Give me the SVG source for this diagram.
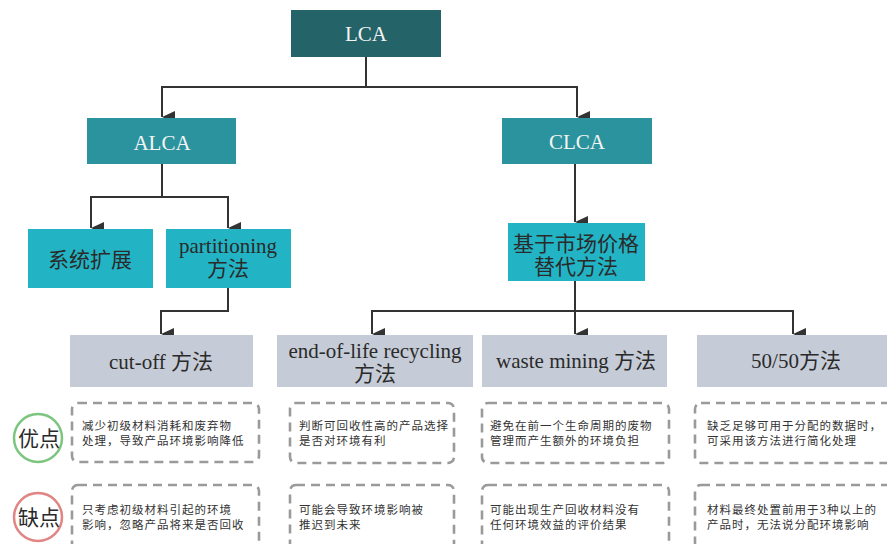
<svg xmlns="http://www.w3.org/2000/svg" width="887" height="544" viewBox="0 0 887 544">
<defs>
<marker id="arr" markerUnits="userSpaceOnUse" markerWidth="12" markerHeight="14" refX="6" refY="13" orient="auto-start-reverse" viewBox="0 0 12 14">
<path d="M0,0 L12,0 L6,13 Z" fill="#333"/>
</marker>
<style>
.lbl{font-family:"Liberation Serif","Noto Sans CJK SC",serif;font-size:21px;text-anchor:middle;fill:#2a2a2a}
.wt{fill:#f4f4f4}
.cn{font-family:"Noto Sans CJK SC","Liberation Serif",sans-serif;font-size:11.5px;letter-spacing:1px;fill:#333}
.dash{fill:#fff;stroke:#9a9a9a;stroke-width:2.6;stroke-dasharray:9 6}
.con{fill:none;stroke:#333;stroke-width:2}
.dark{fill:#246367}
.mid{fill:#2b939e}
.cy{fill:#22b4c4}
.gr{fill:#c6ccd7}
</style>
</defs>
<rect width="887" height="544" fill="#fff"/>
<g id="connectors">
<path class="con" d="M366,57 V87 H162 V117" marker-end="url(#arr)"/>
<path class="con" d="M366,87 H577 V117" marker-end="url(#arr)"/>
<path class="con" d="M162,164 V197 H91 V228" marker-end="url(#arr)"/>
<path class="con" d="M162,197 H228 V228" marker-end="url(#arr)"/>
<path class="con" d="M228,288 V311 H161 V334" marker-end="url(#arr)"/>
<path class="con" d="M575,164 V222" marker-end="url(#arr)"/>
<path class="con" d="M575,281 V311 H372 V334" marker-end="url(#arr)"/>
<path class="con" d="M575,311 V334" marker-end="url(#arr)"/>
<path class="con" d="M575,311 H793 V334" marker-end="url(#arr)"/>
</g>
<g id="lca"><rect class="dark" x="291" y="10" width="150" height="47"/><text class="lbl wt" x="366" y="41">LCA</text></g>
<g id="alca"><rect class="mid" x="87" y="118" width="149" height="46"/><text class="lbl wt" x="162" y="150">ALCA</text></g>
<g id="clca"><rect class="mid" x="502" y="118" width="150" height="46"/><text class="lbl wt" x="577" y="149">CLCA</text></g>
<g id="sysexp"><rect class="cy" x="28" y="229" width="125" height="59"/><text class="lbl" x="90" y="267">系统扩展</text></g>
<g id="partitioning"><rect class="cy" x="166" y="229" width="125" height="59"/><text class="lbl" x="228" y="253" font-size="22">partitioning</text><text class="lbl" x="228" y="276">方法</text></g>
<g id="market"><rect class="cy" x="508" y="223" width="137" height="58"/><text class="lbl" x="576" y="251">基于市场价格</text><text class="lbl" x="576" y="274">替代方法</text></g>
<g id="cutoff"><rect class="gr" x="70" y="335" width="183" height="52"/><text class="lbl" x="161" y="369" font-size="22">cut-off 方法</text></g>
<g id="eol"><rect class="gr" x="277" y="335" width="196" height="52"/><text class="lbl" x="375" y="358" font-size="22">end-of-life recycling</text><text class="lbl" x="375" y="381">方法</text></g>
<g id="waste"><rect class="gr" x="482" y="335" width="185" height="52"/><text class="lbl" x="576" y="368" font-size="22">waste mining 方法</text></g>
<g id="fifty"><rect class="gr" x="697" y="335" width="192" height="52"/><text class="lbl" x="796" y="368" font-size="22">50/50方法</text></g>
<g id="pro">
<circle cx="38" cy="438" r="24" fill="#fff" stroke="#7cc57f" stroke-width="2.5"/>
<text class="lbl" x="39" y="446">优点</text>
</g>
<g id="con">
<circle cx="38" cy="517" r="24" fill="#fff" stroke="#e08484" stroke-width="2.5"/>
<text class="lbl" x="39" y="525">缺点</text>
</g>
<g id="pro1"><rect class="dash" x="72" y="403" width="187" height="59" rx="6"/><text class="cn" x="82" y="430">减少初级材料消耗和废弃物</text><text class="cn" x="82" y="445">处理，导致产品环境影响降低</text></g>
<g id="pro2"><rect class="dash" x="290" y="403" width="164" height="60" rx="6"/><text class="cn" x="299" y="430">判断可回收性高的产品选择</text><text class="cn" x="299" y="445">是否对环境有利</text></g>
<g id="pro3"><rect class="dash" x="482" y="403" width="187" height="60" rx="6"/><text class="cn" x="490" y="430">避免在前一个生命周期的废物</text><text class="cn" x="490" y="445">管理而产生额外的环境负担</text></g>
<g id="pro4"><rect class="dash" x="695" y="403" width="200" height="60" rx="6"/><text class="cn" x="707" y="430">缺乏足够可用于分配的数据时，</text><text class="cn" x="707" y="445">可采用该方法进行简化处理</text></g>
<g id="con1"><rect class="dash" x="72" y="485" width="187" height="70" rx="6"/><text class="cn" x="82" y="514">只考虑初级材料引起的环境</text><text class="cn" x="82" y="529">影响，忽略产品将来是否回收</text></g>
<g id="con2"><rect class="dash" x="290" y="485" width="164" height="70" rx="6"/><text class="cn" x="299" y="514">可能会导致环境影响被</text><text class="cn" x="299" y="529">推迟到未来</text></g>
<g id="con3"><rect class="dash" x="482" y="485" width="187" height="70" rx="6"/><text class="cn" x="490" y="514">可能出现生产回收材料没有</text><text class="cn" x="490" y="529">任何环境效益的评价结果</text></g>
<g id="con4"><rect class="dash" x="695" y="485" width="200" height="70" rx="6"/><text class="cn" x="707" y="514">材料最终处置前用于3种以上的</text><text class="cn" x="707" y="529">产品时，无法说分配环境影响</text></g>
</svg>
